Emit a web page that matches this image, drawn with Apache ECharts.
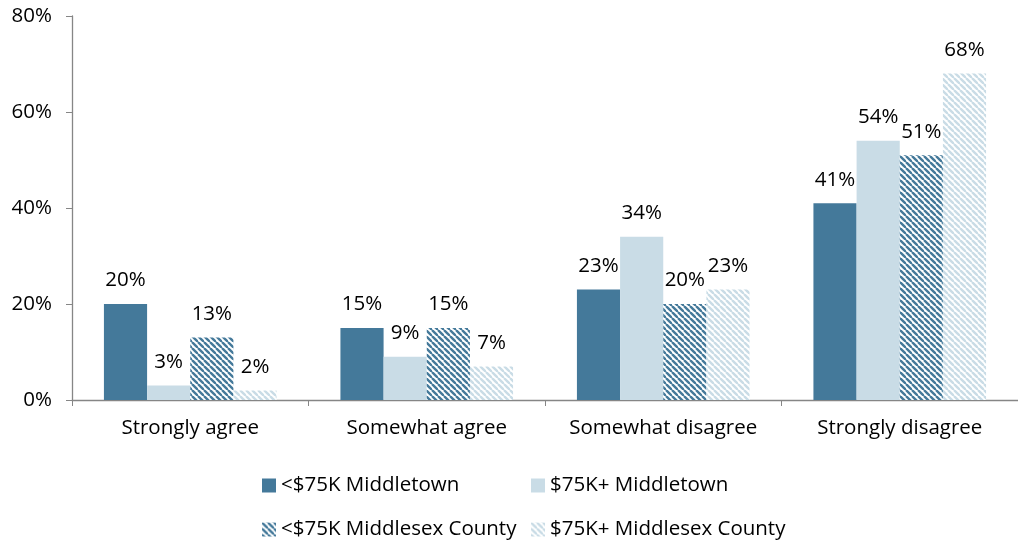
<!DOCTYPE html>
<html><head><meta charset="utf-8">
<script src="https://cdn.jsdelivr.net/npm/echarts@6/dist/echarts.min.js"></script>
<style>html,body{margin:0;padding:0;background:#fff}#c{width:1018px;height:545px}</style>
</head><body><div id="c"></div>
<script>
const categories = ['Strongly agree', 'Somewhat agree', 'Somewhat disagree', 'Strongly disagree'];
const seriesNames = ['<$75K Middletown', '$75K+ Middletown', '<$75K Middlesex County', '$75K+ Middlesex County'];
const lowMiddletown = [20, 15, 23, 41];
const highMiddletown = [3, 9, 34, 54];
const lowMiddlesex = [13, 15, 20, 51];
const highMiddlesex = [2, 7, 23, 68];
const yTicks = [0, 20, 40, 60, 80];

const DARK = '#44799a', LIGHT = '#c9dce6';
function stripes(color) {
  const s = 6;
  const c = document.createElement('canvas');
  c.width = s; c.height = s;
  const g = c.getContext('2d');
  g.fillStyle = '#fff'; g.fillRect(0, 0, s, s);
  g.strokeStyle = color; g.lineWidth = 2.4;
  for (const o of [-s, 0, s]) {
    g.beginPath(); g.moveTo(o, 0); g.lineTo(o + s, s); g.stroke();
  }
  return { image: c, repeat: 'repeat' };
}
const FONT = 'Open Sans';
const FS = 20.5;
const chart = echarts.init(document.getElementById('c'));
const data = [lowMiddletown, highMiddletown, lowMiddlesex, highMiddlesex];
const colors = [DARK, LIGHT, stripes(DARK), stripes(LIGHT)];
const legendPos = [[257, 470], [526, 470], [257, 514], [526, 514]];
chart.setOption({
  animation: false,
  textStyle: { fontFamily: FONT },
  grid: { left: 72, top: 16, width: 948, height: 384, containLabel: false },
  legend: seriesNames.map((n, i) => ({
    data: [n], left: legendPos[i][0], top: legendPos[i][1],
    itemWidth: 14, itemHeight: 14, itemGap: 4, icon: 'rect',
    textStyle: { fontSize: FS, color: '#000', fontFamily: FONT }
  })),
  xAxis: {
    type: 'category', data: categories,
    axisLine: { lineStyle: { color: '#868686', width: 1.3 } },
    axisTick: { show: true, length: 6, lineStyle: { color: '#868686' } },
    axisLabel: { interval: 0, fontSize: FS, color: '#000', margin: 18, fontFamily: FONT }
  },
  yAxis: {
    type: 'value', min: yTicks[0], max: yTicks[yTicks.length - 1], interval: 20,
    axisLine: { show: true, lineStyle: { color: '#868686', width: 1.3 } },
    axisTick: { show: true, length: 6, lineStyle: { color: '#868686' } },
    splitLine: { show: false },
    axisLabel: { fontSize: FS, color: '#000', margin: 20, formatter: '{value}%', fontFamily: FONT }
  },
  series: data.map((d, i) => ({
    name: seriesNames[i], type: 'bar', data: d,
    barGap: '0%', barCategoryGap: '27%',
    itemStyle: { color: colors[i] },
    label: { show: true, position: 'top', distance: 13, formatter: '{c}%', fontSize: FS, color: '#000', fontFamily: FONT }
  }))
});
</script></body></html>
